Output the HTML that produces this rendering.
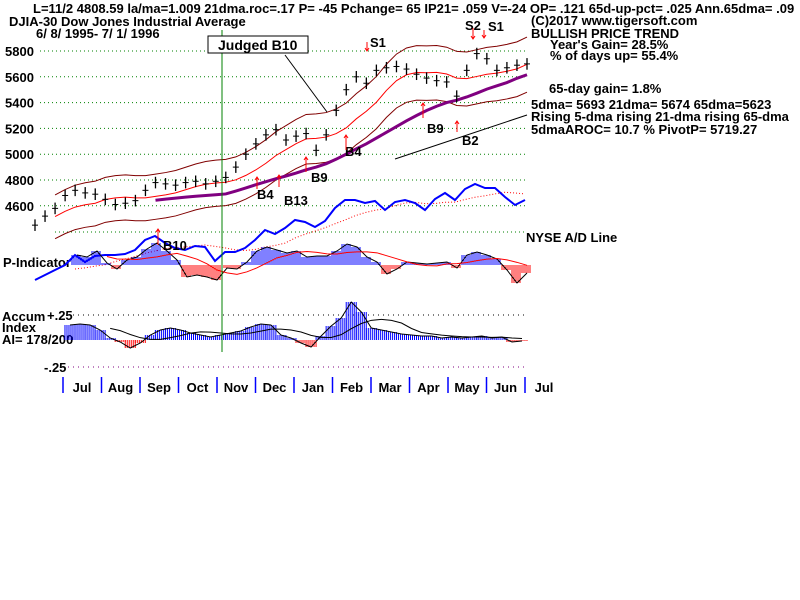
<!DOCTYPE html>
<html><head><meta charset="utf-8"><style>
body{margin:0;background:#fff;}
svg{display:block;font-family:"Liberation Sans",sans-serif;font-weight:bold;}
</style></head><body>
<svg id="c" width="800" height="600" xmlns="http://www.w3.org/2000/svg">
<rect width="800" height="600" fill="#fff"/>
<g font-size="13" fill="#000">
<text x="33" y="13">L=11/2  4808.59  la/ma=1.009 21dma.roc=.17 P= -45 Pchange=  65 IP21= .059 V=-24 OP= .121 65d-up-pct= .025 Ann.65dma= .09</text>
<text x="9" y="26">DJIA-30  Dow Jones Industrial Average</text>
<text x="36" y="38">6/ 8/ 1995- 7/ 1/ 1996</text>
<text x="531" y="25">(C)2017 www.tigersoft.com</text>
<text x="531" y="38">BULLISH PRICE TREND</text>
<text x="550" y="49">Year's Gain= 28.5%</text>
<text x="550" y="60">% of days up= 55.4%</text>
<text x="549" y="93">65-day gain= 1.8%</text>
<text x="531" y="109">5dma= 5693 21dma= 5674 65dma=5623</text>
<text x="531" y="121">Rising 5-dma  rising 21-dma  rising 65-dma</text>
<text x="531" y="134">5dmaAROC= 10.7 %  PivotP= 5719.27</text>
<text x="526" y="242">NYSE A/D Line</text>
<text x="3" y="267">P-Indicator</text>
<text x="2" y="321">Accum</text>
<text x="47" y="320">+.25</text>
<text x="2" y="332">Index</text>
<text x="2" y="344">AI= 178/200</text>
<text x="44" y="372">-.25</text>
</g>
<g id="grid"></g>
<g id="marks"></g>
<g font-size="13">
<line x1="222" y1="30" x2="222" y2="352" stroke="#008000" stroke-width="1"/>
<rect x="208" y="36" width="100" height="17" fill="#fff" stroke="#000"/>
<text x="218" y="50" font-size="14">Judged B10</text>
<line x1="285" y1="55" x2="327" y2="112" stroke="#000"/>
<line x1="395" y1="159" x2="527" y2="115" stroke="#000"/>
<g fill="#000">
<text x="370" y="47">S1</text>
<text x="465" y="30">S2</text>
<text x="488" y="31">S1</text>
<text x="257" y="199">B4</text>
<text x="284" y="205">B13</text>
<text x="311" y="182">B9</text>
<text x="345" y="156">B4</text>
<text x="427" y="133">B9</text>
<text x="462" y="145">B2</text>
<text x="163" y="250">B10</text>
</g>
<g stroke="#f00" fill="none">
<path d="M367 42v9M365 48l2 3 2-3"/><path d="M473 28v11M471 36l2 3 2-3"/><path d="M484 30v8M482 35l2 3 2-3"/>
<path d="M257 189v-12M255 180l2-3 2 3"/><path d="M279 187v-12M277 178l2-3 2 3"/><path d="M306 172v-15M304 160l2-3 2 3"/>
<path d="M346 150v-15M344 138l2-3 2 3"/><path d="M423 118v-15M421 106l2-3 2 3"/><path d="M457 132v-11M455 124l2-3 2 3"/>
<path d="M158 245v-16M156 232l2-3 2 3"/>
</g>
</g>
<g id="axis" font-size="13"></g>
</svg>
<script>
// ---- data ----
const monthLabels=["Jul","Aug","Sep","Oct","Nov","Dec","Jan","Feb","Mar","Apr","May","Jun","Jul"];
const priceTicks=[5800,5600,5400,5200,5000,4800,4600];
const closes=[4450,4520,4580,4680,4720,4700,4690,4650,4610,4620,4640,4720,4780,4770,4760,4780,4790,4770,4790,4820,4900,5000,5080,5150,5190,5110,5140,5160,5030,5150,5340,5500,5600,5550,5650,5670,5680,5660,5620,5590,5570,5560,5450,5650,5780,5740,5650,5670,5690,5700];
const adLine=[20,25,30,35,45,38,44,45,45,46,50,60,64,57,52,50,54,53,39,48,48,52,60,70,66,72,80,78,73,79,92,100,100,97,99,90,98,100,97,90,101,107,100,111,116,112,112,103,95,100];
const pIndicator=[10,8,14,2,-4,5,8,16,22,14,5,-12,-10,-12,-15,-3,-4,3,14,18,15,12,14,8,9,9,14,21,18,8,3,-9,-4,3,2,1,2,3,-3,10,13,10,6,-5,-18,-8];
const accumIndex=[.15,.16,.15,.1,.02,-.02,-.08,-.03,.05,.1,.12,.1,.07,.05,.03,.05,.07,.09,.13,.16,.15,.05,.02,-.03,-.07,.04,.14,.22,.38,.28,.12,.1,.08,.06,.05,.04,.04,.02,.03,.02,.03,.04,.02,.03,-.02,-.01];
// ---- scales ----
const X0=35,X1=527;
const yP=v=>51+(5800-v)*0.129;
const yAD=v=>300-v;
const yPI=v=>265-v;
const yAI=v=>340-v*100;
const ns='http://www.w3.org/2000/svg';
function mk(tag,attrs,parent){const e=document.createElementNS(ns,tag);for(const k in attrs)e.setAttribute(k,attrs[k]);parent.appendChild(e);return e;}
const grid=document.getElementById('grid'),marks=document.getElementById('marks'),axis=document.getElementById('axis');
priceTicks.forEach(v=>{
 const l=mk('line',{x1:40,x2:527,y1:yP(v),y2:yP(v),stroke:'#008000','stroke-dasharray':'1,3'},grid);
 
 
 const t=mk('text',{x:5,y:yP(v)+5,fill:'#000'},axis);t.textContent=v;
 
 
});
[232].forEach(y=>{const l=mk('line',{x1:55,x2:527,y1:y,y2:y,stroke:'#008000','stroke-dasharray':'1,3'},grid);
 
 });
[[315,'#000'],[367,'#800080']].forEach(a=>{const l=mk('line',{x1:68,x2:527,y1:a[0],y2:a[0],stroke:a[1],'stroke-dasharray':'1,4'},grid);
 
 });
// month axis
monthLabels.forEach((m,i)=>{
 const tx=63+i*38.5;
 const l=mk('line',{x1:tx,x2:tx,y1:377,y2:393,stroke:'#0000ff','stroke-width':1.5},axis);
 
 
 const t=mk('text',{x:tx+19,y:392,fill:'#000','text-anchor':'middle'},axis);t.textContent=m;
 
 
});
function ma(arr,n,start){return arr.map((v,i)=>{if(i<start)return null;const s=arr.slice(Math.max(0,i-n+1),i+1);return s.reduce((a,b)=>a+b,0)/s.length;});}
const dx=(X1-X0)/(closes.length-1);
const px=i=>X0+i*dx;
function poly(vals,xf,yf,attrs,name){const pts=vals.map((v,i)=>v==null?null:xf(i)+','+yf(v)).filter(p=>p);const p=mk('polyline',Object.assign({points:pts.join(' '),fill:'none'},attrs),marks);return p;}
const ma21=ma(closes,7,2),ma65=ma(closes,20,12);
poly(ma21.map(v=>v&&v*1.037),px,yP,{stroke:'#800000'},'upper-band');
poly(ma21.map(v=>v&&v*0.962),px,yP,{stroke:'#800000'},'lower-band');
poly(ma21,px,yP,{stroke:'#ff0000'},'ma21-line');
poly(ma65,px,yP,{stroke:'#800080','stroke-width':3},'ma65-line');
closes.forEach((c,i)=>{
 const x=px(i);
 const b=mk('line',{x1:x,x2:x,y1:yP(c+45),y2:yP(c-45),stroke:'#000','stroke-width':1.3},marks);
 
 
 const t=mk('line',{x1:x-3,x2:x+3,y1:yP(c),y2:yP(c),stroke:'#000'},marks);
 
 
});
// A/D line
const adx=i=>35+i*(525-35)/(adLine.length-1);
poly(ma(adLine,8,4),adx,yAD,{stroke:'#ff0000','stroke-dasharray':'1,2'},'ad-ma-line');
poly(adLine,adx,yAD,{stroke:'#0000ff','stroke-width':2},'ad-line');
// P-indicator
const pw=(527-77)/(pIndicator.length-1);
const pix=i=>77+i*pw;
pIndicator.forEach((v,i)=>{for(let k=-pw/2;k<pw/2;k+=2){const x=pix(i)+k;const l=mk('line',{x1:x,x2:x,y1:yPI(0),y2:yPI(v),stroke:v>=0?'#0000ff':'#ff0000'},marks);
 
 }});
poly(pIndicator,pix,yPI,{stroke:'#000'},'p-indicator-outline');
poly(ma(pIndicator,6,3),pix,yPI,{stroke:'#ff0000'},'p-indicator-ma');
// Accum index
const aw=(522-70)/(accumIndex.length-1);
const aix=i=>70+i*aw;
accumIndex.forEach((v,i)=>{for(let k=-aw/2;k<aw/2;k+=2){const x=aix(i)+k;const l=mk('line',{x1:x,x2:x,y1:yAI(0),y2:yAI(v),stroke:v>=0?'#0000ff':'#ff0000'},marks);
 
 }});
poly(accumIndex,aix,yAI,{stroke:'#000'},'accum-outline');
poly(ma(accumIndex,6,4),aix,yAI,{stroke:'#000'},'accum-ma');
</script>
</body></html>
